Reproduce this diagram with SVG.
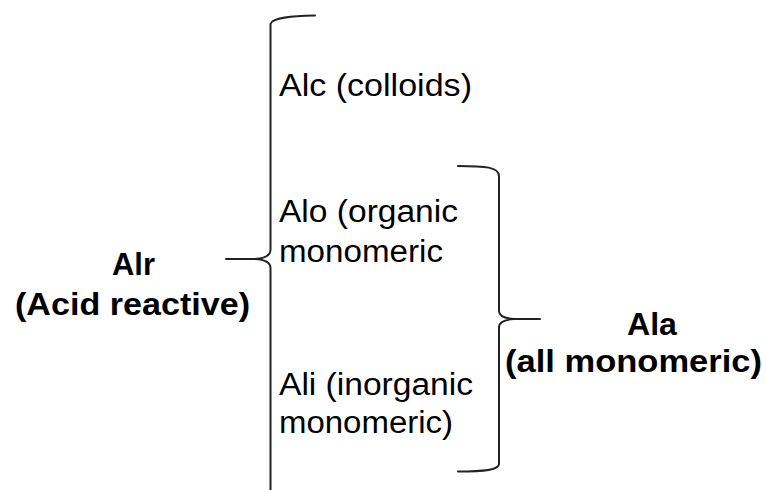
<svg xmlns="http://www.w3.org/2000/svg" width="766" height="490" viewBox="0 0 766 490">
  <style>
    .brace { fill: none; stroke: #222; stroke-width: 2; stroke-linecap: round; stroke-linejoin: round; }
    .lbl { font-family: "Liberation Sans", Arial, sans-serif; font-size: 31px; fill: #000; }
    .bold { font-weight: bold; }
  </style>
  <rect width="766" height="490" fill="#fff"/>

  <!-- braces -->
  <g id="connectors">
    <path class="brace" d="M315,15.5 C292,16 272,17.5 270.5,24 L270.5,250 Q270.5,258 255,259 L226,259 M255,259 Q270.5,260 270.5,268 L270.5,490"/>
    <path class="brace" d="M458,166 C485,166 499,167 499,176 L499,311 Q499,318 514,319 L540,319 M514,319 Q499,320 499,327 L499,464 C499,470 485,471.5 458,471.5"/>
  </g>

  <g id="alr">
    <text class="lbl bold" x="112" y="275" textLength="43" lengthAdjust="spacingAndGlyphs">Alr</text>
    <text class="lbl bold" x="15" y="315" textLength="235" lengthAdjust="spacingAndGlyphs">(Acid reactive)</text>
  </g>

  <g id="alc">
    <text class="lbl" x="279" y="96" textLength="193" lengthAdjust="spacingAndGlyphs">Alc  (colloids)</text>
  </g>

  <g id="alo">
    <text class="lbl" x="279" y="222" textLength="179" lengthAdjust="spacingAndGlyphs">Alo (organic</text>
    <text class="lbl" x="279" y="262" textLength="164" lengthAdjust="spacingAndGlyphs">monomeric</text>
  </g>

  <g id="ali">
    <text class="lbl" x="279" y="395" textLength="194" lengthAdjust="spacingAndGlyphs">Ali (inorganic</text>
    <text class="lbl" x="279" y="433" textLength="174" lengthAdjust="spacingAndGlyphs">monomeric)</text>
  </g>

  <g id="ala">
    <text class="lbl bold" x="627" y="335" textLength="50" lengthAdjust="spacingAndGlyphs">Ala</text>
    <text class="lbl bold" x="505" y="372" textLength="257" lengthAdjust="spacingAndGlyphs">(all monomeric)</text>
  </g>
</svg>
